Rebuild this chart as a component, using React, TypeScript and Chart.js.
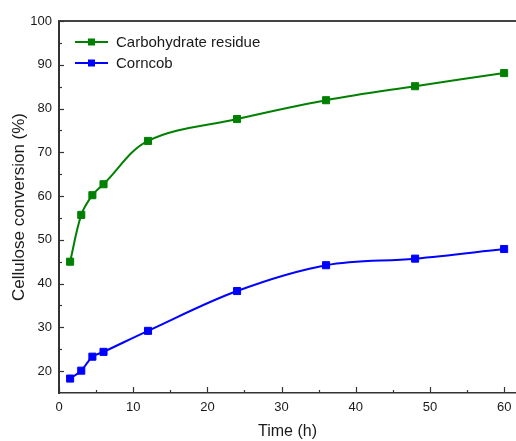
import { useEffect, useRef } from 'react';
import { Chart, registerables } from 'chart.js';
Chart.register(...registerables);

const timeHours = [1.5, 3, 4.5, 6, 12, 24, 36, 48, 60];
const carbohydrateResidue = [45.0, 55.7, 60.2, 62.7, 72.6, 77.6, 81.9, 85.1, 88.1];
const corncob = [18.3, 20.1, 23.3, 24.4, 29.2, 38.3, 44.2, 45.7, 47.9];
const seriesNames = ['Carbohydrate residue', 'Corncob'];
const seriesColors = ['#008000', '#0000ff'];
const xTitle = 'Time (h)';
const yTitle = 'Cellulose conversion (%)';

const FONT = "Arial, 'Liberation Sans', Helvetica, sans-serif";
const AXIS = '#333333';
const TEXT = '#1a1a1a';

const framePlugin = {
  id: 'frame',
  afterDatasetsDraw(chart: any) {
    const { ctx, chartArea } = chart;
    const xs = chart.scales.x;
    const ys = chart.scales.y;
    ctx.save();
    ctx.strokeStyle = '#444444';
    // top border
    ctx.lineWidth = 2;
    ctx.beginPath();
    ctx.moveTo(chartArea.left, chartArea.top);
    ctx.lineTo(chartArea.right, chartArea.top);
    ctx.stroke();
    ctx.strokeStyle = AXIS;
    ctx.lineWidth = 1.2;
    // x ticks (inward)
    const xt = xs.ticks.map((t: any) => t.value);
    const xStep = xt.length > 1 ? xt[1] - xt[0] : 10;
    xt.forEach((v: number) => {
      const p = Math.round(xs.getPixelForValue(v)) + 0.5;
      ctx.beginPath();
      ctx.moveTo(p, chartArea.bottom);
      ctx.lineTo(p, chartArea.bottom - 6);
      ctx.stroke();
      const m = v + xStep / 2;
      if (m < xs.max) {
        const pm = Math.round(xs.getPixelForValue(m)) + 0.5;
        ctx.beginPath();
        ctx.moveTo(pm, chartArea.bottom);
        ctx.lineTo(pm, chartArea.bottom - 3);
        ctx.stroke();
      }
    });
    const yt = ys.ticks.map((t: any) => t.value);
    const yStep = yt.length > 1 ? yt[1] - yt[0] : 10;
    yt.forEach((v: number) => {
      const p = Math.round(ys.getPixelForValue(v)) + 0.5;
      ctx.beginPath();
      ctx.moveTo(chartArea.left, p);
      ctx.lineTo(chartArea.left + 5, p);
      ctx.stroke();
      const m = v + yStep / 2;
      if (m < ys.max) {
        const pm = Math.round(ys.getPixelForValue(m)) + 0.5;
        ctx.beginPath();
        ctx.moveTo(chartArea.left, pm);
        ctx.lineTo(chartArea.left + 3, pm);
        ctx.stroke();
      }
    });
    // legend
    const lx = chartArea.left + 16;
    const ly = chartArea.top + 21;
    const gap = 21;
    chart.data.datasets.forEach((ds: any, i: number) => {
      const y = ly + i * gap;
      ctx.strokeStyle = ds.borderColor;
      ctx.lineWidth = 2;
      ctx.beginPath();
      ctx.moveTo(lx, y);
      ctx.lineTo(lx + 33, y);
      ctx.stroke();
      ctx.fillStyle = ds.borderColor;
      ctx.fillRect(lx + 16.5 - 3.5, y - 3.5, 7, 7);
      ctx.fillStyle = TEXT;
      ctx.font = `15px ${FONT}`;
      ctx.textBaseline = 'middle';
      ctx.textAlign = 'left';
      ctx.fillText(ds.label, lx + 41, y + 0.5);
    });
    ctx.restore();
  },
};

export default function App() {
  const ref = useRef<HTMLCanvasElement | null>(null);
  useEffect(() => {
    if (!ref.current) return;
    const chart = new Chart(ref.current, {
      type: 'line',
      data: {
        datasets: [carbohydrateResidue, corncob].map((vals, i) => ({
          label: seriesNames[i],
          data: timeHours.map((t, j) => ({ x: t, y: vals[j] })),
          borderColor: seriesColors[i],
          backgroundColor: seriesColors[i],
          borderWidth: 2,
          pointStyle: 'rect',
          pointRadius: 5,
          pointBorderWidth: 1,
          tension: 0.35,
          clip: false,
        })),
      },
      options: {
        animation: false,
        responsive: false,
        maintainAspectRatio: false,
        layout: { autoPadding: false, padding: { top: 21, right: 0, left: 0, bottom: 0 } },
        plugins: { legend: { display: false }, tooltip: { enabled: false } },
        scales: {
          x: {
            type: 'linear',
            min: 0,
            max: 61.6,
            ticks: {
              stepSize: 10,
              includeBounds: false,
              color: TEXT,
              font: { family: FONT, size: 13 },
              padding: 7,
              maxRotation: 0,
            },
            grid: { display: false, drawTicks: false },
            border: { display: true, color: AXIS, width: 1.5 },
            title: {
              display: true,
              text: xTitle,
              color: TEXT,
              font: { family: FONT, size: 16 },
              padding: { top: 0, bottom: 0 },
            },
            afterFit: (s: any) => {
              s.height = 48;
              s.paddingRight = 0;
              s.paddingLeft = 0;
            },
          },
          y: {
            type: 'linear',
            min: 15,
            max: 100,
            ticks: {
              stepSize: 10,
              includeBounds: false,
              color: TEXT,
              font: { family: FONT, size: 13 },
              padding: 7,
            },
            grid: { display: false, drawTicks: false },
            border: { display: true, color: AXIS, width: 2 },
            title: {
              display: true,
              text: yTitle,
              color: TEXT,
              font: { family: FONT, size: 17 },
              padding: { top: 9, bottom: 0 },
            },
            afterFit: (s: any) => {
              s.width = 59;
              s.paddingTop = 0;
              s.paddingBottom = 0;
            },
          },
        },
      },
      plugins: [framePlugin],
    } as any);
    return () => chart.destroy();
  }, []);
  return (
    <div style={{ position: 'absolute', left: 0, top: 0, width: 516, height: 441, background: '#fff' }}>
      <canvas ref={ref} width={516} height={441} style={{ display: 'block', width: 516, height: 441 }} />
    </div>
  );
}
